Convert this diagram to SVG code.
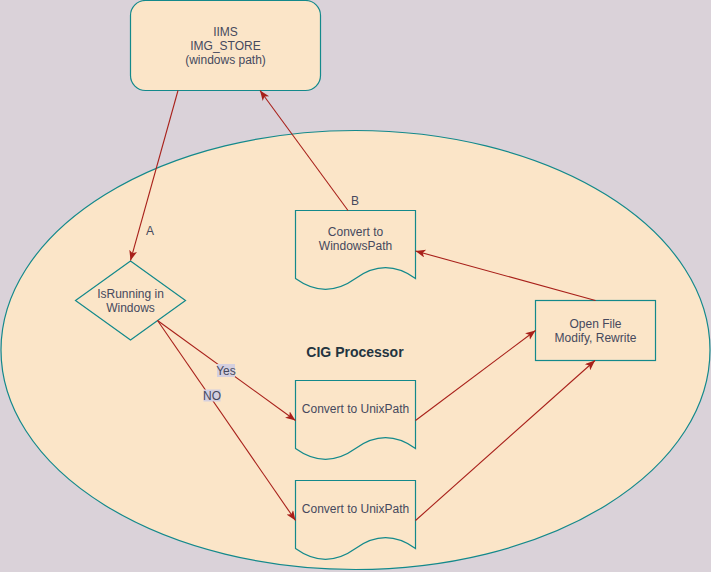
<svg xmlns="http://www.w3.org/2000/svg" width="711" height="572" viewBox="0 0 711 572">
<defs>
<style>
.node{fill:#FBE5C8;stroke:#13898B;stroke-width:1.2}
.t{font-family:"Liberation Sans",Arial,sans-serif;font-size:12px;fill:#46495D;text-anchor:middle}
.b{font-family:"Liberation Sans",Arial,sans-serif;font-size:14px;font-weight:bold;fill:#233440;text-anchor:middle}
.e{fill:none;stroke:#A8201A;stroke-width:1.1}
.lb{fill:#D4CFDF}
</style>
<marker id="arr" markerUnits="userSpaceOnUse" markerWidth="12" markerHeight="10" refX="10" refY="4" orient="auto">
<path d="M0,0 L10,4 L0,8 L2.5,4 Z" fill="#A8201A"/>
</marker>
</defs>
<rect x="0" y="0" width="711" height="572" fill="#DAD2D9"/>
<g id="cig-processor">
<ellipse class="node" cx="355.5" cy="350" rx="354.5" ry="219.5"/>
<text class="b" x="355" y="356.5">CIG Processor</text>
</g>
<g id="iims">
<rect class="node" x="130.5" y="0.5" width="190" height="90" rx="15" ry="15"/>
<text class="t" x="225.5" y="36">IIMS</text>
<text class="t" x="225.5" y="50">IMG_STORE</text>
<text class="t" x="225.5" y="64">(windows path)</text>
</g>
<g id="is-running">
<path class="node" d="M130.5,261 L185.5,300.5 L130.5,340 L75.5,300.5 Z"/>
<text class="t" x="130.5" y="298">IsRunning in</text>
<text class="t" x="130.5" y="312">Windows</text>
</g>
<g id="to-windows">
<path class="node" d="M295.5,210.5 H415.5 V278.5 Q385.5,256.9 355.5,278.5 Q325.5,300.1 295.5,278.5 Z"/>
<text class="t" x="355.5" y="236">Convert to</text>
<text class="t" x="355.5" y="250">WindowsPath</text>
</g>
<g id="to-unix-1">
<path class="node" d="M295.5,380.5 H415.5 V448.5 Q385.5,426.9 355.5,448.5 Q325.5,470.1 295.5,448.5 Z"/>
<text class="t" x="355.5" y="412.5">Convert to UnixPath</text>
</g>
<g id="to-unix-2">
<path class="node" d="M295.5,480.5 H415.5 V548.5 Q385.5,526.9 355.5,548.5 Q325.5,570.1 295.5,548.5 Z"/>
<text class="t" x="355.5" y="512.5">Convert to UnixPath</text>
</g>
<g id="open-file">
<rect class="node" x="535.5" y="300.5" width="120" height="60"/>
<text class="t" x="595.5" y="328">Open File</text>
<text class="t" x="595.5" y="342">Modify, Rewrite</text>
</g>
<g id="connectors">
<path class="e" d="M178,90.5 L130.5,260.5" marker-end="url(#arr)"/>
<text class="t" x="150" y="235">A</text>
<path class="e" d="M348,210.5 L260,90.5" marker-end="url(#arr)"/>
<text class="t" x="355" y="205">B</text>
<path class="e" d="M595.5,300.5 L415.5,251" marker-end="url(#arr)"/>
<path class="e" d="M157.5,320.5 L295.5,420.5" marker-end="url(#arr)"/>
<path class="e" d="M157.5,320.5 L295.5,520.5" marker-end="url(#arr)"/>
<path class="e" d="M415.5,420.5 L535.5,330.5" marker-end="url(#arr)"/>
<path class="e" d="M415.5,520.5 L595,360.5" marker-end="url(#arr)"/>
<rect class="lb" x="217" y="364" width="18" height="13"/>
<text class="t" x="226" y="374.5">Yes</text>
<rect class="lb" x="203.5" y="389.5" width="17" height="12"/>
<text class="t" x="212" y="400">NO</text>
</g>
</svg>
